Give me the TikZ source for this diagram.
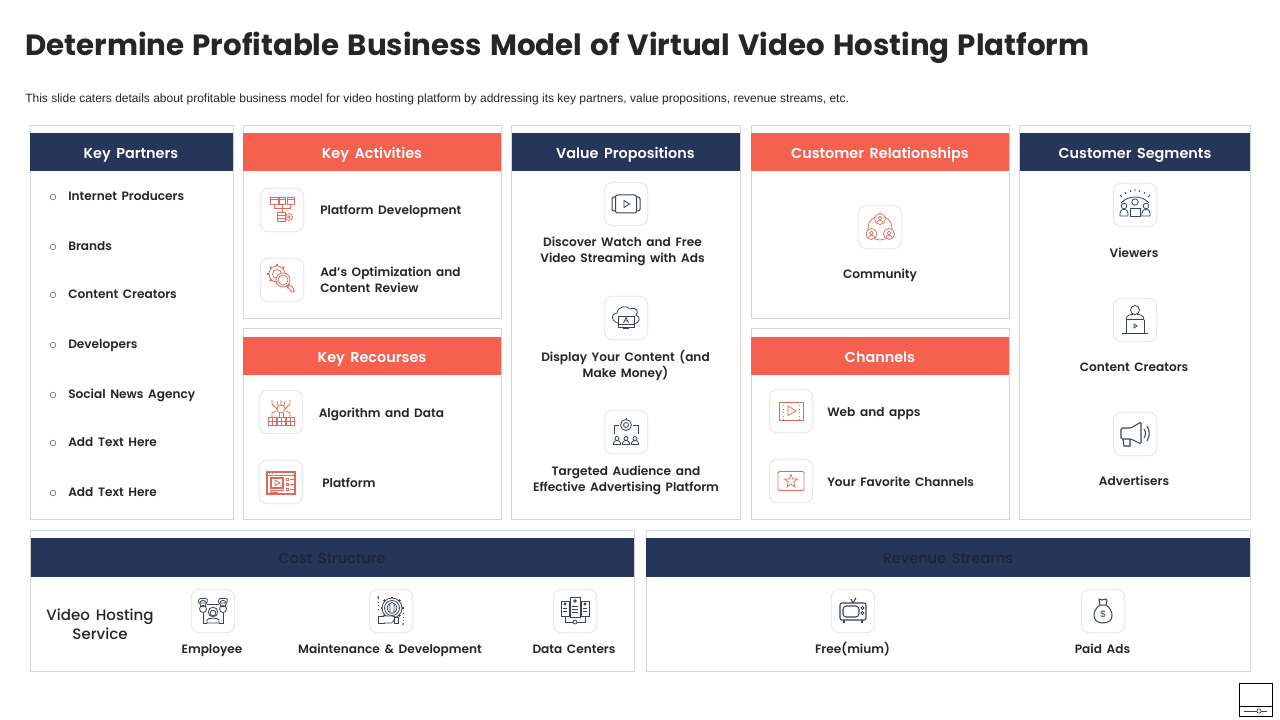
\documentclass[tikz,border=0pt]{standalone}
\usepackage{fontspec}
\setmainfont{Poppins}[WordSpace=1.3]
\newfontfamily\medfont{Poppins Medium}[WordSpace=1.5]
\newfontfamily\semifont{Poppins SemiBold}[WordSpace=1.6]
\newfontfamily\bodyfont{Liberation Sans}
\definecolor{ink}{HTML}{262626}
\definecolor{navyb}{HTML}{26355A}
\definecolor{coral}{HTML}{F6604E}
\definecolor{frameg}{HTML}{D2D6DA}
\definecolor{ibox}{HTML}{E3E3E6}
\definecolor{icr}{HTML}{E2695A}
\definecolor{icn}{HTML}{3A4356}
\definecolor{darkhead}{HTML}{1D2636}
\tikzset{
  panel/.style={draw=frameg,line width=0.7pt,fill=white},
  headtxt/.style={font=\fontsize{10.8}{14}\selectfont\semifont,text=white,inner sep=0,text height=8pt,text depth=3pt,yshift=-1.5pt},
  darktxt/.style={font=\fontsize{10.9}{14}\selectfont\medfont,text=darkhead,inner sep=0,text height=8pt,text depth=3pt,yshift=-1.5pt},
  lbl/.style={font=\fontsize{9.1}{12}\selectfont\semifont,text=ink,inner sep=0,align=center,yshift=-1.5pt,execute at begin node={\strut},execute at end node={\strut}},
  lbll/.style={lbl,anchor=west,align=left},
  bullet/.style={circle,draw=ink!70,line width=0.45pt,minimum size=4.2pt,inner sep=0},
  iconbox/.style={draw=ibox,line width=0.6pt,rounded corners=6pt,minimum size=32.5pt,inner sep=0,fill=white},
  red/.style={draw=icr,line width=0.55pt},
  nv/.style={draw=icn,line width=0.6pt},
}
\begin{document}
\begin{tikzpicture}[x=0.75pt,y=-0.75pt]
\useasboundingbox (0,0) rectangle (1280,720);
\fill[white] (0,0) rectangle (1280,720);
% title
\node[anchor=west,inner sep=0,text=ink,font=\fontsize{21.97}{28}\selectfont\bfseries,text height=17pt,text depth=6pt] (title) at (25,48) {Determine Profitable Business Model of Virtual Video Hosting Platform};
\node[anchor=west,inner sep=0,text=ink,font=\fontsize{9}{11}\selectfont\bodyfont] (sub) at (25,99) {This slide caters details about profitable business model for video hosting platform by addressing its key partners, value propositions, revenue streams, etc.};
% panels
\draw[panel] (30,125) rectangle (233,519);
\draw[panel] (243,125) rectangle (501,318);
\draw[panel] (243,328) rectangle (501,519);
\draw[panel] (511,125) rectangle (740,519);
\draw[panel] (751,125) rectangle (1009,318);
\draw[panel] (751,328) rectangle (1009,519);
\draw[panel] (1019,125) rectangle (1250,519);
\draw[panel] (30,530) rectangle (634,671);
\draw[panel] (646,530) rectangle (1250,671);
% bands
\fill[navyb] (30,133) rectangle (233,171);
\fill[coral] (243,133) rectangle (501,171);
\fill[coral] (243,337) rectangle (501,375);
\fill[navyb] (511.5,133) rectangle (740,171);
\fill[coral] (751,133) rectangle (1009,171);
\fill[coral] (751,337) rectangle (1009,375);
\fill[navyb] (1019.5,133) rectangle (1250,171);
\fill[navyb] (30.5,538) rectangle (634,577);
\fill[navyb] (646,538) rectangle (1250,577);
% headers
\node[headtxt] (h1) at (131,153) {Key Partners};
\node[headtxt] (h2) at (372,153) {Key Activities};
\node[headtxt] (h3) at (372,357) {Key Recourses};
\node[headtxt] (h4) at (625.5,153) {Value Propositions};
\node[headtxt] (h5) at (880,153) {Customer Relationships};
\node[headtxt] (h6) at (880,357) {Channels};
\node[headtxt] (h7) at (1135,153) {Customer Segments};
\node[darktxt] (h8) at (332,558) {Cost Structure};
\node[darktxt] (h9) at (948,558) {Revenue Streams};
% key partners
\foreach \n/\yy/\t in {a/195/Internet Producers,b/245/Brands,c/293/Content Creators,d/343/Developers,e/393/Social News Agency,f/441/Add Text Here,g/491/Add Text Here}{
  \node[bullet] (bul\n) at (53,\yy+2) {};
  \node[lbll] (kp\n) at (68,\yy) {\t};
}
% labels
\node[lbll] (l1) at (320,209) {Platform Development};
\node[lbll] (l2) at (320,280) {Ad’s Optimization and\\Content Review};
\node[lbll] (l3) at (318.5,412) {Algorithm and Data};
\node[lbll] (l4) at (322,482) {Platform};
\node[lbl] (l5) at (622.5,250) {Discover Watch and Free\\Video Streaming with Ads};
\node[lbl] (l6) at (625.5,364) {Display Your Content (and\\Make Money)};
\node[lbl] (l7) at (626,479) {Targeted Audience and\\Effective Advertising Platform};
\node[lbl] (l8) at (880,273) {Community};
\node[lbll] (l9) at (827,411) {Web and apps};
\node[lbll] (l10) at (827,481) {Your Favorite Channels};
\node[lbl] (l11) at (1134,252) {Viewers};
\node[lbl] (l12) at (1134,366) {Content Creators};
\node[lbl] (l13) at (1134,480) {Advertisers};
\node[lbl] (l14) at (212,648) {Employee};
\node[lbl] (l15) at (390,648) {Maintenance \& Development};
\node[lbl] (l16) at (574,648) {Data Centers};
\node[lbl] (l17) at (852.5,648) {Free(mium)};
\node[lbl] (l18) at (1102.5,648) {Paid Ads};
\node[inner sep=0,align=center,text=ink,font=\fontsize{11.3}{14.3}\selectfont\medfont] (vh) at (100,624) {Video Hosting\\Service};
% icon boxes
\foreach \n/\xx/\yy in {pd/282/210,ad/282/280,al/281/412,pf/281/482,vi/626/204,cl/626/318,ta/626/432,co/880/227,we/791/411,fa/791/481,vw/1135/205,cc/1135/320,me/1135/434,em/213/611,ma/391/611,dc/575/611,tv/853/611,pa/1103/611}{
  \node[iconbox] (ib\n) at (\xx,\yy) {};
}
% --- Platform development
\begin{scope}[shift={(ibpd.center)},red]
\draw (-12,-13) rectangle (-4,-6); \draw (-3,-13) rectangle (3,-6); \draw (5,-13) rectangle (12,-6);
\draw (-12,-10.5)--(-4,-10.5) (-3,-10.5)--(3,-10.5) (5,-10.5)--(12,-10.5);
\draw (-8,-6)--(-8,-2)--(8,-2)--(8,-6) (0,-6)--(0,2);
\draw (-5,2) rectangle (3,11); \draw (-5,5)--(3,5) (-5,8)--(3,8);
\draw (7,7) circle (3.5); \draw (7,7) circle (1.3);
\end{scope}
% --- Gear and magnifier
\begin{scope}[shift={(ibad.center)},red]
\draw (-5,-6) circle (8); \draw (-5,-6) circle (4.5);
\foreach \a in {0,45,...,315}{\draw[line width=1.1pt] (-5,-6)++(\a:8)--++(\a:2);}
\fill[white] (1,0) circle (7.2);
\draw (1,0) circle (7); \draw (1,0) circle (5);
\draw[rounded corners=1.5pt] (5.5,5.5)--(7.5,4.5)--(13,10)--(11,13)--(5.5,7.5)--cycle;
\end{scope}
% --- Algorithm
\begin{scope}[shift={(ibal.center)},red]
\draw (-13,5) rectangle (-5,13); \draw (-4,5) rectangle (4,13); \draw (5,5) rectangle (13,13);
\draw (-13,9)--(-5,9) (-4,9)--(4,9) (5,9)--(13,9) (-9,5)--(-9,13) (0,5)--(0,13) (9,5)--(9,13);
\draw (0,-3) circle (4); \draw (-2,1)--(-2,5) (2,1)--(2,5);
\draw (-4,-3)--(-9,-8)--(-9,-12) (4,-3)--(9,-8)--(9,-12) (0,-7)--(0,-12) (-3,-6)--(-4,-11) (3,-6)--(4,-11);
\draw (-9,5)--(-9,1)--(-5,-1) (9,5)--(9,1)--(5,-1);
\end{scope}
% --- Platform window
\begin{scope}[shift={(ibpf.center)},red]
\draw[line width=0.8pt] (-14,-10) rectangle (14,12); \draw (-14,-6.5)--(14,-6.5);
\draw[line width=0.8pt] (-10,-4) rectangle (2,6);
\draw (-6,-2)--(-6,3.5)--(-1,1)--cycle;
\draw[dotted] (-12,-8.3)--(-7,-8.3);
\draw (-11,8.5)--(3,8.5) (-11,10.5)--(-3,10.5);
\foreach \v in {-3,2,7}{\draw (5,\v-1) rectangle (7,\v+1); \draw (8.5,\v)--(12.5,\v);}
\end{scope}
% --- Video
\begin{scope}[shift={(ibvi.center)},nv]
\draw[line width=0.75pt,rounded corners=1.5pt] (-10.5,-9) rectangle (10.5,9);
\draw[line width=0.75pt,rounded corners=1.5pt] (-10.5,-7)--(-14,-7)--(-14,7)--(-10.5,7);
\draw[line width=0.75pt,rounded corners=1.5pt] (10.5,-7)--(14,-7)--(14,7)--(10.5,7);
\draw (-2,-3.5)--(-2,3.5)--(3.5,0)--cycle;
\end{scope}
% --- Cloud with monitor
\begin{scope}[shift={(ibcl.center)},nv]
\draw (-8,5) .. controls (-16,3) and (-15,-5) .. (-9,-5) .. controls (-8,-12) and (1,-13) .. (4,-9) .. controls (11,-12) and (13,-5) .. (10,-3) .. controls (15,-1) and (14,5) .. (8,6);
\draw[fill=white] (-8,-2) rectangle (8,9); \draw (-8,6.5)--(8,6.5);
\draw (-3,10.5)--(3,10.5) (0,9)--(0,10.5);
\draw (-2.5,5)--(0,-0.5)--(2.5,5) (-1.5,3)--(1.5,3);
\end{scope}
% --- Targeted audience
\begin{scope}[shift={(ibta.center)},nv]
\draw (0,-7) circle (5.5); \draw (0,-7) circle (2.5);
\draw (-12,2)--(-12,-7)--(-7,-7) (12,2)--(12,-7)--(7,-7);
\draw (0,-14)--(0,-12.5);
\foreach \p in {-9,0,9}{\draw (\p,6.5) circle (2);
\draw (\p-3.5,12.5)--(\p-3.5,11) arc[start angle=180,end angle=360,x radius=3.5,y radius=2.5]--(\p+3.5,12.5)--cycle;}
\end{scope}
% --- Community
\begin{scope}[shift={(ibco.center)},red]
\draw (0,1) circle (12);
\foreach \cx/\cy in {0/-8,-8.5/7,9/7}{
  \fill[white] (\cx,\cy) circle (5.7);
  \draw (\cx,\cy) circle (5.5);
  \draw (\cx,\cy-1) circle (1.9);
  \draw (\cx-3.2,\cy+3.6) arc[start angle=180,end angle=360,x radius=3.2,y radius=2.4];
}
\end{scope}
% --- Web and apps
\begin{scope}[shift={(ibwe.center)},red]
\draw[line width=0.7pt] (-12,-9) rectangle (12,9);
\draw[dotted] (-8,-9)--(-8,9) (8,-9)--(8,9);
\draw (-3,-5)--(-3,4.5)--(5,0)--cycle;
\end{scope}
% --- Favourite
\begin{scope}[shift={(ibfa.center)},red]
\draw[line width=0.7pt,rounded corners=1pt] (-13,-9.5) rectangle (13,9.5);
\draw (0,-6.5)--(1.7,-2)--(6.5,-2)--(2.7,1)--(4,6)--(0,3)--(-4,6)--(-2.7,1)--(-6.5,-2)--(-1.7,-2)--cycle;
\end{scope}
% --- Viewers
\begin{scope}[shift={(ibvw.center)},nv]
\draw (-14,-2) .. controls (-7,-10) and (7,-10) .. (14,-2);
\draw (-9,-11)--(-10,-13) (-4,-13)--(-5,-15) (0,-14)--(0,-16) (4,-13)--(5,-15) (9,-11)--(10,-13) (13,-8)--(15,-10) (-13,-8)--(-15,-10);
\draw (0,-3) circle (3.2);
\draw (-5,11)--(-5,3)--(5,3)--(5,11)--cycle;
\draw (-11,1) circle (2.8); \draw (11,1) circle (2.8);
\draw (-15,11)--(-15,8) arc[start angle=180,end angle=360,x radius=4,y radius=3.8]--(-7,11)--cycle;
\draw (7,11)--(7,8) arc[start angle=180,end angle=360,x radius=4,y radius=3.8]--(15,11)--cycle;
\end{scope}
% --- Content creator
\begin{scope}[shift={(ibcc.center)},nv]
\draw (0,-10) circle (4.5);
\draw (-9,-0.5) .. controls (-9,-5) and (-4,-5.5) .. (-2,-5.5) (2,-5.5) .. controls (4,-5.5) and (9,-5) .. (9,-0.5);
\draw (-9,-0.5)--(-9,13) (9,-0.5)--(9,13) (-9,-0.5)--(9,-0.5);
\draw (-13,13)--(13,13);
\draw (-1,4)--(-1,8)--(2,6)--cycle;
\end{scope}
% --- Megaphone
\begin{scope}[shift={(ibme.center)},nv]
\draw[line width=0.8pt,rounded corners=1pt] (-14,-6)--(-4,-6)--(6,-12)--(6,10)--(-4,5)--(-14,5)--cycle;
\draw[line width=0.8pt] (-12,5)--(-11,12)--(-5,12)--(-5,5);
\draw[line width=0.8pt] (9,-5) .. controls (11,-2) and (11,1) .. (9,4);
\draw[line width=0.8pt] (12,-8) .. controls (15,-3) and (15,2) .. (12,7);
\end{scope}
% --- Employee
\begin{scope}[shift={(ibem.center)},nv]
\draw (-10,-12.5) .. controls (-15,-14) and (-15,-9) .. (-14,-8) -- (-6,-8) .. controls (-5,-10) and (-5,-14) .. (-10,-12.5);
\draw (10,-12.5) .. controls (5,-14) and (5,-9) .. (6,-8) -- (14,-8) .. controls (15,-10) and (15,-14) .. (10,-12.5);
\draw (-10,-7.5) circle (3.2); \draw (10,-7.5) circle (3.2);
\draw (-10,-2) circle (3.5); \draw (10,-2) circle (3.5);
\draw (-6,-7)--(6,-7);
\draw (-10,1.5)--(-10,12)--(-6,12) (10,1.5)--(10,12)--(6,12);
\draw (0,1) circle (4.8); \draw (0,2) circle (2.8);
\draw (-6,12)--(-6,9) .. controls (-5,6.5) and (5,6.5) .. (6,9)--(6,12)--cycle;
\end{scope}
% --- Maintenance
\begin{scope}[shift={(ibma.center)},nv]
\draw (1,-3) circle (10); \draw (1,-3) circle (7.5); \draw (1,-3) circle (5);
\foreach \a in {0,45,...,315}{\draw[line width=1.4pt] (1,-3)++(\a:10)--++(\a:1.5);}
\draw[fill=white] (-1,-4) .. controls (-3,-10) and (5,-10) .. (3,-4) -- (3,2) -- (-1,2)--cycle;
\draw[fill=white] (-13,5) rectangle (-7,12);
\draw[fill=white,rounded corners=1pt] (-7,5)--(2,5)--(6,7)--(6,8)--(2,9)--(2,12)--(-7,12);
\draw[fill=white] (3,6) rectangle (7,12);
\draw[dotted,line width=0.7pt] (-13,-13)--(-13,0) (12,2)--(12,12);
\fill[icn] (-13,-14) circle (1) (12,13) circle (1);
\end{scope}
% --- Data centers
\begin{scope}[shift={(ibdc.center)},nv]
\draw (-5,-14) rectangle (5,6); \draw (-14,-10) rectangle (-6,5); \draw (6,-10) rectangle (14,5);
\draw (-3,-5)--(3,-5) (-3,-2)--(3,-2) (-3,1)--(3,1) (-12,-3)--(-8,-3) (-12,0)--(-8,0) (8,-3)--(12,-3) (8,0)--(12,0);
\draw (0,-10) circle (1.3); \draw (-10,-7) circle (1); \draw (10,-7) circle (1);
\draw (-10,5)--(-10,11)--(-2,11) (10,5)--(10,11)--(2,11);
\draw (0,11) circle (2); 
\end{scope}
% --- TV
\begin{scope}[shift={(ibtv.center)},nv]
\draw[line width=0.8pt,rounded corners=1.5pt] (-13,-8) rectangle (13,9);
\draw[line width=0.8pt,rounded corners=2.5pt] (-10,-5) rectangle (6,6);
\draw (9.5,-3) circle (1.5); \draw (9.5,2) circle (1.5);
\draw[line width=0.8pt] (-2,-12)--(0,-8)--(3,-13);
\draw[line width=0.8pt] (-9,9)--(-9,12) (9,9)--(9,12);
\end{scope}
% --- Money bag
\begin{scope}[shift={(ibpa.center)},nv]
\draw[line width=0.75pt] (-3,-6) .. controls (-11,-1) and (-12,12) .. (0,12) .. controls (12,12) and (11,-1) .. (3,-6)--cycle;
\draw[line width=0.75pt] (-3,-6)--(-4,-12)--(-1,-11)--(2,-12)--(4,-11)--(3,-6);
\node[inner sep=0,text=icn,font=\fontsize{7}{8}\selectfont\bodyfont] (dollar) at (0,3) {\$};
\end{scope}
% corner mark
\draw[black,line width=0.6pt] (1239.5,683.5) rectangle (1272,716);
\draw[black,line width=0.6pt] (1239.5,706)--(1272,706);
\draw[icn,line width=0.6pt] (1244,711)--(1267,711);
\node[circle,draw=icn,fill=white,line width=0.5pt,minimum size=3.2pt,inner sep=0] (knob) at (1259,711) {};
\end{tikzpicture}
\end{document}
